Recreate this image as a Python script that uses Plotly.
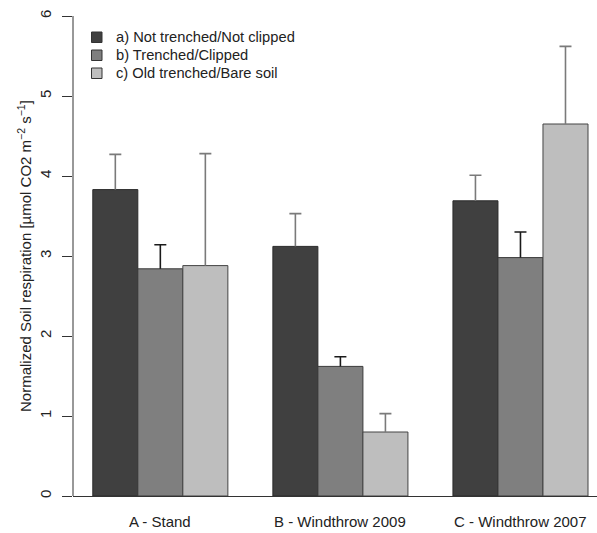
import plotly.graph_objects as go

# Sites and treatments
sites = ["A - Stand", "B - Windthrow 2009", "C - Windthrow 2007"]
treatments = ["a) Not trenched/Not clipped", "b) Trenched/Clipped", "c) Old trenched/Bare soil"]

# Normalized soil respiration (mean) per treatment across the three sites
resp_a = [3.83, 3.12, 3.69]
resp_b = [2.84, 1.62, 2.98]
resp_c = [2.88, 0.80, 4.65]

# Upper error (standard error) per treatment across the three sites
err_a = [0.44, 0.41, 0.32]
err_b = [0.30, 0.12, 0.32]
err_c = [1.40, 0.23, 0.97]

y_ticks = [0, 1, 2, 3, 4, 5, 6]

fill_colors = ["#404040", "#7f7f7f", "#bebebe"]
edge_colors = ["#2a2a2a", "#3a3a3a", "#444444"]
err_colors = ["#7a7a7a", "#1a1a1a", "#7a7a7a"]

W, H = 597, 533
ML, MR, MT, MB = 73, 0, 0, 37
PW, PH = W - ML - MR, H - MT - MB

FONT = "Liberation Sans, Arial, sans-serif"
TXT = "#222222"
FS = 15


def px_x(px):
    return (px - ML) / PW


def px_y(py):
    return 1 - (py - MT) / PH


# bar layout: one bar unit wide, one unit gap between groups (as in R barplot beside=TRUE)
n_tr = len(treatments)
group_start = [1 + g * (n_tr + 1) for g in range(len(sites))]
group_center = [s + n_tr / 2 for s in group_start]

fig = go.Figure()
series = [resp_a, resp_b, resp_c]
errors = [err_a, err_b, err_c]
for i, (vals, errs) in enumerate(zip(series, errors)):
    xs = [s + i + 0.5 for s in group_start]
    # bar with the error stem (no caps)
    fig.add_trace(go.Bar(
        x=xs, y=vals, width=1, name=treatments[i],
        marker=dict(color=fill_colors[i], line=dict(color=edge_colors[i], width=1)),
        error_y=dict(type="data", symmetric=False, array=errs,
                     arrayminus=[0] * len(errs), color=err_colors[i],
                     thickness=1.6, width=0),
        showlegend=False,
    ))
    # cap at the top of each error stem
    fig.add_trace(go.Scatter(
        x=xs, y=[v + e for v, e in zip(vals, errs)], mode="markers",
        marker=dict(size=0.1, color="rgba(0,0,0,0)"),
        error_y=dict(type="data", array=[0] * len(errs), color=err_colors[i],
                     thickness=1.6, width=6),
        showlegend=False, hoverinfo="skip",
    ))

shapes = []
annotations = []

# y axis line spanning the tick range only
shapes.append(dict(type="line", xref="paper", yref="y", x0=0, x1=0,
                   y0=y_ticks[0], y1=y_ticks[-1], line=dict(color="#333333", width=1)))

# legend drawn as boxes + labels
leg_top = 37
for i, name in enumerate(treatments):
    cy = leg_top + i * 18
    shapes.append(dict(type="rect", xref="paper", yref="paper",
                       x0=px_x(91.5), x1=px_x(102), y0=px_y(cy - 5), y1=px_y(cy + 5.5),
                       fillcolor=fill_colors[i], line=dict(color="#333333", width=1)))
    annotations.append(dict(text=name, xref="paper", yref="paper",
                            x=px_x(114), y=px_y(cy), xanchor="left", yanchor="middle",
                            showarrow=False, font=dict(family=FONT, size=14.7, color=TXT)))

# site labels under each group
for name, c in zip(sites, group_center):
    annotations.append(dict(text=name, xref="x", yref="paper", x=c, y=px_y(521),
                            xanchor="center", yanchor="middle", showarrow=False,
                            font=dict(family=FONT, size=FS, color=TXT)))

# y axis title
annotations.append(dict(text="Normalized Soil respiration [µmol CO2 m<sup>−2</sup> s<sup>−1</sup>]",
                        xref="paper", yref="y", x=px_x(24), y=3, textangle=-90,
                        xanchor="center", yanchor="middle", showarrow=False,
                        font=dict(family=FONT, size=FS, color=TXT)))

fig.update_layout(
    width=W, height=H,
    margin=dict(l=ML, r=MR, t=MT, b=MB),
    paper_bgcolor="white", plot_bgcolor="white",
    barmode="overlay",
    font=dict(family=FONT, size=FS, color=TXT),
    shapes=shapes, annotations=annotations,
    xaxis=dict(range=[0.56, 12.2], showline=True, linecolor="#333333", linewidth=1,
               showticklabels=False, ticks="", showgrid=False, zeroline=False,
               fixedrange=True),
    yaxis=dict(range=[0, 6.2], tickvals=y_ticks, ticktext=[str(v) for v in y_ticks],
               ticks="outside", ticklen=10, tickcolor="#333333", tickwidth=1,
               tickangle=-90, showline=False, showgrid=False, zeroline=False,
               tickfont=dict(family=FONT, size=FS, color=TXT),
               ticklabelstandoff=5, fixedrange=True),
)

fig.write_html("out.html")
